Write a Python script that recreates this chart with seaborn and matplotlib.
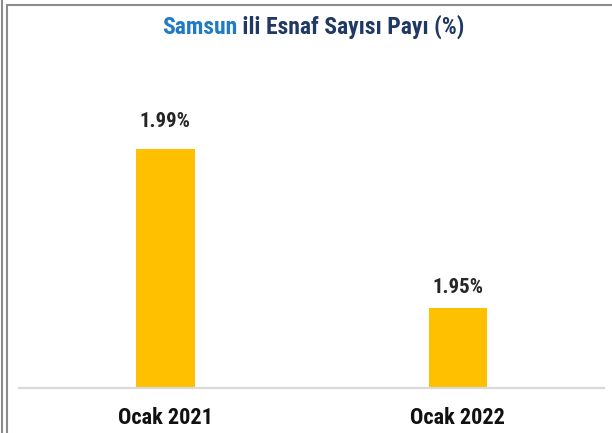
import matplotlib
matplotlib.use("Agg")
import matplotlib.pyplot as plt
from matplotlib.patches import Rectangle
from matplotlib.lines import Line2D
import seaborn as sns
import pandas as pd

# Data
periods = ["Ocak 2021", "Ocak 2022"]
share_pct = [1.99, 1.95]
value_labels = ["1.99%", "1.95%"]

title_city = "Samsun"
title_rest = " ili Esnaf Sayısı Payı (%)"

sns.set_theme(style="white")
narrow = ["Roboto Condensed", "DejaVu Sans"]
plt.rcParams["font.family"] = narrow

W, H, DPI = 612, 433, 100
fig = plt.figure(figsize=(W / DPI, H / DPI), dpi=DPI)
fig.patch.set_facecolor("white")

# axes placement in pixel terms
ax_left, ax_right, ax_bottom, ax_top = 19, 604, 388, 50
ax = fig.add_axes([ax_left / W, (H - ax_bottom) / H,
                   (ax_right - ax_left) / W, (ax_bottom - ax_top) / H])

df = pd.DataFrame({"period": periods, "share": share_pct})
sns.barplot(data=df, x="period", y="share", color="#FFC000",
            width=0.2, saturation=1, ax=ax, edgecolor="none")

ax.set_xlim(-0.5, 1.5)
ax.set_ylim(1.93, 2.015)
ax.set_xlabel("")
ax.set_ylabel("")
ax.set_yticks([])
for side in ["left", "right", "top"]:
    ax.spines[side].set_visible(False)
ax.spines["bottom"].set_color("#d9d9d9")
ax.spines["bottom"].set_linewidth(1.6)
ax.tick_params(axis="x", length=0, pad=13.5, labelsize=16, labelcolor="#111111")
for lbl in ax.get_xticklabels():
    lbl.set_fontweight("bold")
    lbl.set_family(narrow)

# value labels above each bar
label_gap_pt = [15.8, 10.8]
for i, (v, txt) in enumerate(zip(share_pct, value_labels)):
    ax.annotate(txt, xy=(i, v), xytext=(0, label_gap_pt[i]),
                textcoords="offset points", ha="center", va="baseline",
                fontsize=15, fontweight="bold", color="#262626", family=narrow)

# two-colour title
title_size = 17
t1 = fig.text(0, 0, title_city, fontsize=title_size, fontweight="bold",
              color="#1F7BC4", ha="left", va="baseline", family=narrow,
              transform=None)
t2 = ax.annotate(title_rest, xy=(1, 0), xycoords=t1, ha="left", va="bottom",
                 fontsize=title_size, fontweight="bold", color="#1F3864",
                 family=narrow, annotation_clip=False)
fig.canvas.draw()
r = fig.canvas.get_renderer()
w1 = t1.get_window_extent(r).width
w2 = t2.get_window_extent(r).width
center_x = 313
t1.set_position((center_x - (w1 + w2) / 2, H - 34))

# outer frame
fig.add_artist(Rectangle((7, -10), W + 10, H - 5 + 10, transform=None,
                         fill=False, edgecolor="#8c8c8c", linewidth=1.5))
fig.add_artist(Line2D([1.5, 1.5], [0, H], transform=None,
                      color="#8c8c8c", linewidth=1.5))

fig.savefig("out.png", dpi=DPI, facecolor="white")
